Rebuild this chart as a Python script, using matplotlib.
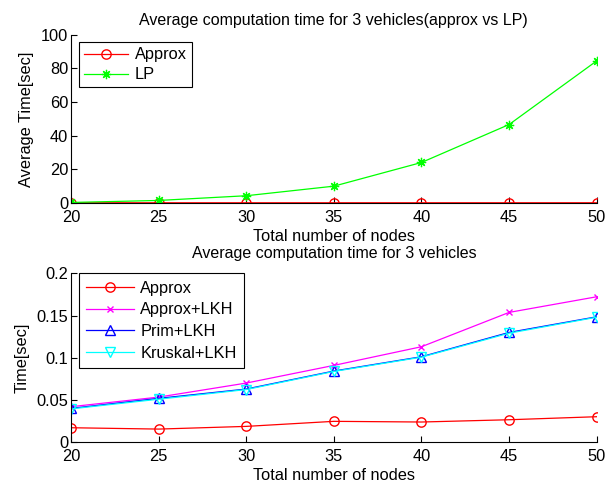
import matplotlib
matplotlib.use("Agg")
import matplotlib.pyplot as plt

plt.rcParams['font.family'] = ['Liberation Sans', 'DejaVu Sans']

nodes = [20, 25, 30, 35, 40, 45, 50]
approx = [0.0166, 0.0150, 0.0182, 0.0242, 0.0234, 0.0261, 0.0297]
lp = [0.2, 1.4, 4.2, 9.9, 24.0, 46.6, 84.5]
approx_lkh = [0.0416, 0.0530, 0.0697, 0.0907, 0.1129, 0.1537, 0.1723]
prim_lkh = [0.0396, 0.0515, 0.0626, 0.0840, 0.1010, 0.1299, 0.1485]
kruskal_lkh = [0.0390, 0.0505, 0.0620, 0.0835, 0.1005, 0.1290, 0.1480]

top_title = "Average computation time for 3 vehicles(approx vs LP)"
bottom_title = "Average computation time for 3 vehicles"
xlabel = "Total number of nodes"

fig = plt.figure(figsize=(6.12, 4.84), dpi=100)
ax1 = fig.add_axes([0.116, 0.581, 0.859, 0.347])
ax2 = fig.add_axes([0.116, 0.0874, 0.859, 0.3476])

ms = 6.7
lw = 0.9
fs = 11.8
tfs = 11.5

def style(ax):
    for s in ['top', 'right']:
        ax.spines[s].set_visible(False)
    for s in ['left', 'bottom']:
        ax.spines[s].set_linewidth(0.8)
    ax.tick_params(direction='in', length=4, labelsize=fs, width=0.8, pad=2)
    ax.tick_params(axis='x', pad=5)
    ax.set_xlim(20, 50)
    ax.set_xticks(nodes)

leg_kw = dict(loc='upper left', fontsize=fs, fancybox=False, edgecolor='black',
              framealpha=1, borderaxespad=0, handletextpad=0.4)

ax1.plot(nodes, approx, color='red', marker='o', mfc='none', ms=ms, lw=lw, label='Approx')
ax1.plot(nodes, lp, color='#00ff00', marker=(8, 2, 0), ms=ms, lw=lw, mew=0.9, label='LP')
style(ax1)
ax1.set_ylim(0, 100)
ax1.set_yticks([0, 20, 40, 60, 80, 100])
ax1.set_title(top_title, fontsize=tfs, pad=7.2)
ax1.set_xlabel(xlabel, fontsize=fs, labelpad=3)
ax1.set_ylabel("Average Time[sec]", fontsize=fs, labelpad=5)
leg1 = ax1.legend(bbox_to_anchor=(0.0152, 0.955), handlelength=2.7, borderpad=0.3,
                  labelspacing=0.3, **leg_kw)
leg1.get_frame().set_linewidth(0.8)

ax2.plot(nodes, approx, color='red', marker='o', mfc='none', ms=ms, lw=lw, label='Approx')
ax2.plot(nodes, approx_lkh, color='magenta', marker='x', ms=5, lw=lw, label='Approx+LKH')
ax2.plot(nodes, prim_lkh, color='blue', marker='^', mfc='none', ms=ms, lw=lw, label='Prim+LKH')
ax2.plot(nodes, kruskal_lkh, color='cyan', marker='v', mfc='none', ms=ms, lw=lw, label='Kruskal+LKH')
style(ax2)
ax2.set_ylim(0, 0.2)
ax2.set_yticks([0, 0.05, 0.1, 0.15, 0.2])
ax2.set_yticklabels(['0', '0.05', '0.1', '0.15', '0.2'])
ax2.set_title(bottom_title, fontsize=tfs, pad=10.8)
ax2.set_xlabel(xlabel, fontsize=fs, labelpad=3)
ax2.set_ylabel("Time[sec]", fontsize=fs, labelpad=5)
leg2 = ax2.legend(bbox_to_anchor=(0.0152, 1.0), handlelength=2.9, borderpad=0.45,
                  labelspacing=0.4, **leg_kw)
leg2.get_frame().set_linewidth(0.8)

fig.savefig('out.png', dpi=100)
